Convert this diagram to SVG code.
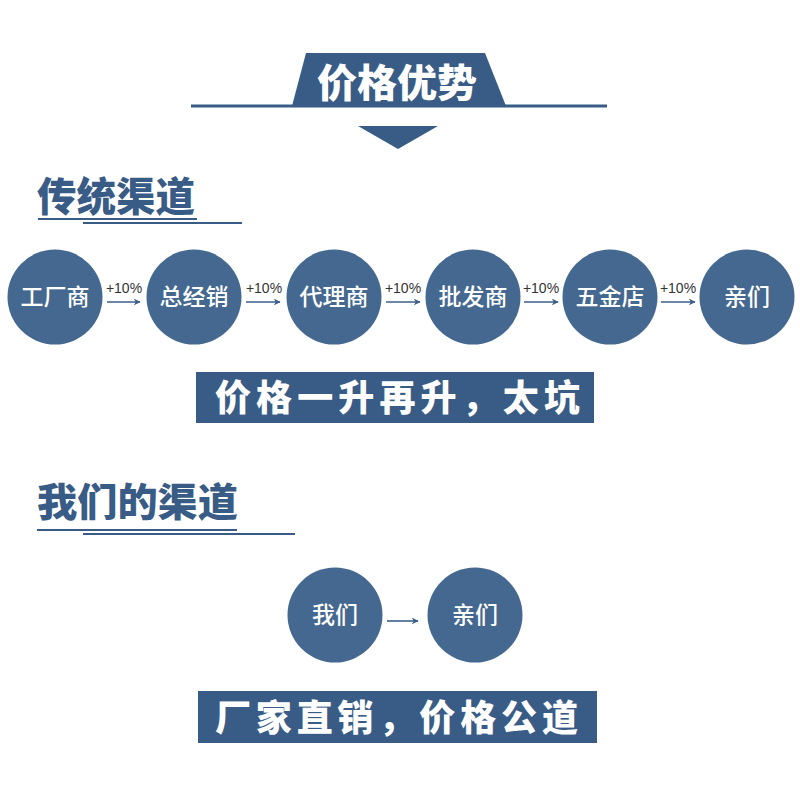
<svg xmlns="http://www.w3.org/2000/svg" width="800" height="800" viewBox="0 0 800 800">
<defs>
<style>
.bg{fill:#ffffff}
.dark{fill:#385c86}
.node{fill:#44688f}
.thin{stroke:#385c86;stroke-width:2.2;fill:none}
.head{font-family:"Noto Sans CJK SC","Noto Sans",sans-serif;font-weight:900;}
.ntxt{font-family:"Noto Sans CJK SC","Noto Sans",sans-serif;font-weight:500;font-size:23px;fill:#ffffff;text-anchor:middle}
.pct{font-family:"Liberation Sans","Noto Sans",sans-serif;font-size:14px;fill:#333333;text-anchor:middle}
.arrow{stroke:#3d5f88;stroke-width:1.6;fill:none;marker-end:url(#ah)}
</style>
<marker id="ah" viewBox="0 0 10 10" refX="9" refY="5" markerWidth="7" markerHeight="7" markerUnits="userSpaceOnUse" orient="auto">
<path d="M0,0 L10,5 L0,10 L3,5 Z" fill="#3d5f88"/>
</marker>
</defs>
<rect class="bg" x="0" y="0" width="800" height="800"/>

<g id="title">
<rect class="dark" x="191" y="104.5" width="416" height="3"/>
<polygon class="dark" points="306,53 485,53 506,106 292,106"/>
<text class="head" x="317" y="97" font-size="39" fill="#ffffff" textLength="160" lengthAdjust="spacingAndGlyphs">价格优势</text>
<polygon class="dark" points="358,126 438,126 398,149"/>
</g>

<g id="section1">
<text class="head" x="37" y="211" font-size="40" fill="#385c86" textLength="158" lengthAdjust="spacingAndGlyphs">传统渠道</text>
<line class="thin" x1="38" y1="219" x2="197" y2="219"/>
<line class="thin" x1="83" y1="223" x2="242" y2="223"/>
</g>

<g id="n1"><circle class="node" cx="55" cy="297" r="47.5"/><text class="ntxt" x="55" y="305">工厂商</text></g>
<g id="n2"><circle class="node" cx="194" cy="297" r="47.5"/><text class="ntxt" x="194" y="305">总经销</text></g>
<g id="n3"><circle class="node" cx="334" cy="297" r="47.5"/><text class="ntxt" x="334" y="305">代理商</text></g>
<g id="n4"><circle class="node" cx="473" cy="297" r="47.5"/><text class="ntxt" x="473" y="305">批发商</text></g>
<g id="n5"><circle class="node" cx="610" cy="297" r="47.5"/><text class="ntxt" x="610" y="305">五金店</text></g>
<g id="n6"><circle class="node" cx="747" cy="297" r="47.5"/><text class="ntxt" x="747" y="305">亲们</text></g>

<g id="connectors">
<line class="arrow" x1="107" y1="302" x2="140" y2="302"/>
<text class="pct" x="124" y="293">+10%</text>
<line class="arrow" x1="246" y1="302" x2="280" y2="302"/>
<text class="pct" x="264" y="293">+10%</text>
<line class="arrow" x1="386" y1="302" x2="420" y2="302"/>
<text class="pct" x="403" y="293">+10%</text>
<line class="arrow" x1="524" y1="302" x2="558" y2="302"/>
<text class="pct" x="541" y="293">+10%</text>
<line class="arrow" x1="661" y1="302" x2="695" y2="302"/>
<text class="pct" x="678" y="293">+10%</text>
<line class="arrow" x1="387" y1="621" x2="418" y2="621"/>
</g>

<g id="banner1">
<rect class="dark" x="196" y="372" width="398" height="51"/>
<text class="head" x="215" y="411" font-size="36" fill="#ffffff" textLength="365" lengthAdjust="spacing">价格一升再升，太坑</text>
</g>

<g id="section2">
<text class="head" x="37" y="516" font-size="39" fill="#385c86" textLength="201" lengthAdjust="spacingAndGlyphs">我们的渠道</text>
<line class="thin" x1="37" y1="530" x2="237" y2="530"/>
<line class="thin" x1="83" y1="534" x2="295" y2="534"/>
</g>

<g id="m1"><circle class="node" cx="335" cy="615" r="47.5"/><text class="ntxt" x="335" y="623">我们</text></g>
<g id="m2"><circle class="node" cx="475" cy="615" r="47.5"/><text class="ntxt" x="475" y="623">亲们</text></g>

<g id="banner2">
<rect class="dark" x="198" y="691" width="399" height="52"/>
<text class="head" x="215" y="731" font-size="36" fill="#ffffff" textLength="363" lengthAdjust="spacing">厂家直销，价格公道</text>
</g>
</svg>
